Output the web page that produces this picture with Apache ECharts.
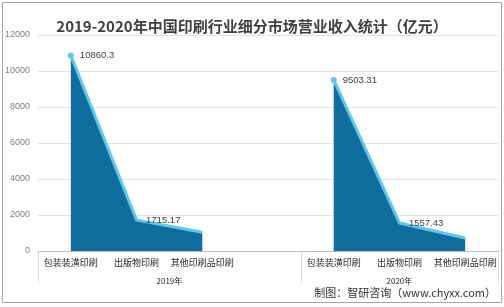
<!DOCTYPE html>
<html>
<head>
<meta charset="utf-8">
<script src="https://cdn.jsdelivr.net/npm/echarts@6/dist/echarts.min.js"></script>
<style>
  html, body { margin: 0; padding: 0; background: #ffffff; }
  #chart { width: 504px; height: 307px; }
</style>
</head>
<body>
<div id="chart"></div>
<script>
// Sub-market categories, grouped by year; the empty slot separates the two years
const categories = ['包装装潢印刷', '出版物印刷', '其他印刷品印刷', '', '包装装潢印刷', '出版物印刷', '其他印刷品印刷'];
// Revenue in 100 million yuan (亿元); null keeps the two year groups apart
const revenue = [10860.3, 1715.17, 1040, null, 9503.31, 1557.43, 720];
// Points that carry a value label
const labelled = [true, true, false, false, true, true, false];
// Points that show a marker dot
const dotted = [true, false, false, false, true, false, false];
// Year group labels and their centres / dividers on a 0..7 band scale
const yearLabels = ['2019年', '2020年'];
const yearCentres = [2, 5.5];
const yearDividers = [0, 4, 7];

const chart = echarts.init(document.getElementById('chart'), null, { renderer: 'canvas' });

const seriesData = revenue.map((v, i) => ({
  value: v,
  symbol: 'circle',
  symbolSize: dotted[i] ? 6 : 1,
  itemStyle: { color: dotted[i] ? '#5cc8ea' : 'rgba(0,0,0,0)' },
  label: {
    show: labelled[i],
    position: 'right',
    distance: dotted[i] ? 6 : 9,
    formatter: () => String(v),
    color: '#404040',
    fontSize: 9.5,
    fontFamily: 'Liberation Sans, Arial, sans-serif'
  }
}));

chart.setOption({
  animation: false,
  backgroundColor: '#ffffff',
  title: {
    text: '2019-2020年中国印刷行业细分市场营业收入统计（亿元）',
    left: 'center',
    top: 14,
    textStyle: {
      fontSize: 15,
      fontWeight: 'bold',
      color: '#404040',
      fontFamily: 'Noto Sans CJK SC, sans-serif'
    }
  },
  graphic: [
    {
      type: 'rect',
      shape: { x: 2.5, y: 2.5, width: 499, height: 300 },
      style: { fill: 'none', stroke: '#a6a6a6', lineWidth: 1 },
      silent: true
    },
    {
      type: 'text',
      right: 8,
      top: 287,
      style: {
        text: '制图：智研咨询（www.chyxx.com）',
        fill: '#333333',
        fontSize: 11,
        fontFamily: 'Noto Sans CJK SC, sans-serif'
      }
    }
  ],
  grid: { left: 38, right: 6, top: 35, bottom: 56, containLabel: false },
  xAxis: [
    {
      type: 'category',
      data: categories,
      boundaryGap: true,
      axisLine: { show: true, lineStyle: { color: '#bfbfbf', width: 1 } },
      axisTick: { show: false },
      axisLabel: {
        interval: 0,
        margin: 7,
        color: '#262626',
        fontSize: 9,
        fontFamily: 'Noto Sans CJK SC, sans-serif'
      },
      splitLine: { show: false }
    },
    {
      type: 'value',
      gridIndex: 0,
      position: 'bottom',
      min: 0,
      max: 7,
      axisLine: { show: false },
      splitLine: { show: false },
      axisTick: {
        show: true,
        customValues: yearDividers,
        length: 32,
        lineStyle: { color: '#d9d9d9', width: 1 }
      },
      axisLabel: {
        show: true,
        customValues: yearCentres,
        margin: 26,
        formatter: (val) => {
          const idx = yearCentres.indexOf(val);
          return idx >= 0 ? yearLabels[idx] : '';
        },
        color: '#262626',
        fontSize: 8,
        fontFamily: 'Noto Sans CJK SC, sans-serif'
      }
    }
  ],
  yAxis: {
    type: 'value',
    min: 0,
    max: 12000,
    interval: 2000,
    axisLine: { show: false },
    axisTick: { show: false },
    axisLabel: {
      margin: 8,
      color: '#7f7f7f',
      fontSize: 9,
      fontFamily: 'Liberation Sans, Arial, sans-serif',
      formatter: (val) => String(val)
    },
    splitLine: { show: true, lineStyle: { color: '#e3e3e3', width: 1 } }
  },
  series: [
    {
      type: 'line',
      xAxisIndex: 0,
      data: seriesData,
      connectNulls: false,
      smooth: false,
      lineStyle: { color: '#5cc8ea', width: 3 },
      areaStyle: { color: '#0f6e9e', opacity: 1 },
      z: 3
    }
  ]
});
</script>
</body>
</html>
